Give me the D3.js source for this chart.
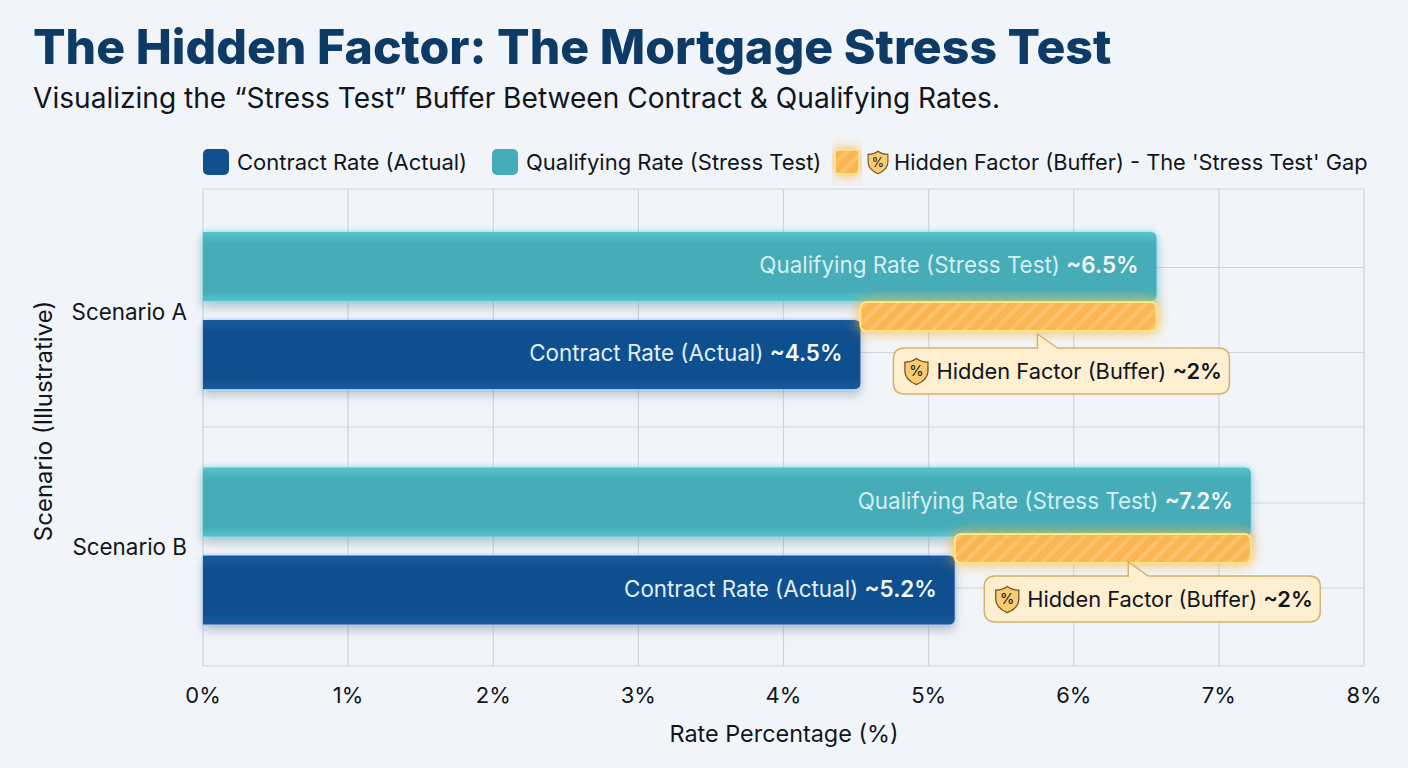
<!DOCTYPE html>
<html>
<head>
<meta charset="utf-8">
<script src="https://d3js.org/d3.v7.min.js"></script>
<style>
  html, body { margin: 0; padding: 0; background: #f1f5fa; }
  svg { display: block; }
  text { font-family: Inter, "Noto Sans", sans-serif; fill: #11151b; }
</style>
</head>
<body>
<svg></svg>
<script>
var scenarios = ["Scenario A", "Scenario B"];
var series = ["Qualifying", "Contract"];
var contractRates = [4.53, 5.18];
var qualifyingRates = [6.57, 7.22];
var contractLabels = ["~4.5%", "~5.2%"];
var qualifyingLabels = ["~6.5%", "~7.2%"];
var bufferLabels = ["~2%", "~2%"];
var xTicks = [0, 1, 2, 3, 4, 5, 6, 7, 8];

var width = 1408;
var height = 768;
var margin = { left: 203, right: 44, top: 189, bottom: 102 };

var svg = d3.select("svg").attr("width", width).attr("height", height);
var defs = svg.append("defs");

function glow(id, color, blur, opacity, shadow) {
  var f = defs.append("filter").attr("id", id)
    .attr("x", "-10%").attr("y", "-60%").attr("width", "120%").attr("height", "220%");
  f.append("feDropShadow").attr("dx", 0).attr("dy", 0)
    .attr("stdDeviation", blur).attr("flood-color", color).attr("flood-opacity", opacity);
  if (shadow) {
    f.append("feDropShadow").attr("dx", 0).attr("dy", 6)
      .attr("stdDeviation", 5).attr("flood-color", "#5a6b80").attr("flood-opacity", 0.35);
  }
}
glow("glowTeal", "#63d6dc", 3, 0.8, true);
glow("glowNavy", "#7fb4ea", 2, 0.7, true);
glow("glowGold", "#fba92c", 7, 0.85, false);

function vGradient(id, edge, mid) {
  var g = defs.append("linearGradient").attr("id", id)
    .attr("x1", 0).attr("y1", 0).attr("x2", 0).attr("y2", 1);
  g.append("stop").attr("offset", "0%").attr("stop-color", edge);
  g.append("stop").attr("offset", "18%").attr("stop-color", mid);
  g.append("stop").attr("offset", "85%").attr("stop-color", mid);
  g.append("stop").attr("offset", "100%").attr("stop-color", edge);
}
vGradient("tealFill", "#58c3ca", "#45acb8");
vGradient("navyFill", "#155a9e", "#114f8f");

var stripes = defs.append("pattern").attr("id", "stripes")
  .attr("width", 11).attr("height", 11)
  .attr("patternUnits", "userSpaceOnUse")
  .attr("patternTransform", "rotate(45)");
stripes.append("rect").attr("width", 11).attr("height", 11).attr("fill", "#fbb552");
stripes.append("rect").attr("width", 4).attr("height", 11).attr("fill", "#fcc26c");

svg.append("rect").attr("width", width).attr("height", height).attr("fill", "#f1f5fa");

// scales
var plotBottom = height - margin.bottom;
var x = d3.scaleLinear().domain([0, 8]).range([margin.left, width - margin.right]);
var y = d3.scaleBand().domain(scenarios).range([margin.top, 660]);
var y1 = d3.scaleBand().domain(series)
  .range([0, y.bandwidth()]).paddingInner(0.216).paddingOuter(0.446).align(0.548);

// title
svg.append("text").attr("x", 33).attr("y", 64)
  .attr("font-size", 48.2).attr("font-weight", 800)
  .style("fill", "#0d3b66").text("The Hidden Factor: The Mortgage Stress Test");
svg.append("text").attr("x", 33).attr("y", 108)
  .attr("font-size", 28.1).text("Visualizing the \u201cStress Test\u201d Buffer Between Contract & Qualifying Rates.");

// grid
var grid = svg.append("g");
grid.selectAll(".v").data(xTicks).enter().append("line")
  .attr("x1", function(d) { return x(d); }).attr("x2", function(d) { return x(d); })
  .attr("y1", margin.top).attr("y2", plotBottom)
  .attr("stroke", "#d0d4da").attr("stroke-width", 1.2);
var hLines = [margin.top, 427, plotBottom];
scenarios.forEach(function(s) {
  hLines.push(y(s) + y1("Qualifying") + y1.bandwidth() / 2 + 1);
  hLines.push(y(s) + y1("Contract") + y1.bandwidth() / 2 - 2);
});
grid.selectAll(".h").data(hLines).enter().append("line")
  .attr("x1", margin.left).attr("x2", width - margin.right)
  .attr("y1", function(d) { return d; }).attr("y2", function(d) { return d; })
  .attr("stroke", "#d0d4da").attr("stroke-width", 1.2);

// axes text
svg.selectAll(".xt").data(xTicks).enter().append("text")
  .attr("x", function(d) { return x(d); }).attr("y", 703)
  .attr("text-anchor", "middle").attr("font-size", 22)
  .text(function(d) { return d + "%"; });
svg.append("text").attr("x", 784).attr("y", 742).attr("text-anchor", "middle")
  .attr("font-size", 23.4).text("Rate Percentage (%)");
svg.selectAll(".yt").data(scenarios).enter().append("text")
  .attr("x", 187).attr("y", function(d) { return y(d) + y.bandwidth() / 2 + 12.8; })
  .attr("text-anchor", "end").attr("font-size", 22.4)
  .text(function(d) { return d; });
svg.append("text").attr("transform", "translate(52,421) rotate(-90)")
  .attr("text-anchor", "middle").attr("font-size", 24).text("Scenario (Illustrative)");

function shield(parent, cx, cy, s) {
  var g = parent.append("g").attr("transform", "translate(" + cx + "," + cy + ") scale(" + s + ")");
  g.append("path").attr("d", "M0,-12 C4,-9 7.5,-8.5 11,-8.5 L11,0 C11,6.5 6,10.5 0,13 C-6,10.5 -11,6.5 -11,0 L-11,-8.5 C-7.5,-8.5 -4,-9 0,-12 Z")
    .attr("fill", "#fbcb74").attr("stroke", "#6f5320").attr("stroke-width", 1.2);
  g.append("text").attr("text-anchor", "middle").attr("y", 5)
    .attr("font-size", 14).text("%");
}

// bars
var rows = scenarios.map(function(s, i) {
  return { s: s, contract: contractRates[i], qualifying: qualifyingRates[i],
    cl: contractLabels[i], ql: qualifyingLabels[i], bl: bufferLabels[i] };
});

function rightRound(x0, x1, top, h, r) {
  return "M" + x0 + "," + top + "H" + (x1 - r) + "Q" + x1 + "," + top + " " + x1 + "," + (top + r) +
    "V" + (top + h - r) + "Q" + x1 + "," + (top + h) + " " + (x1 - r) + "," + (top + h) + "H" + x0 + "Z";
}

var bars = svg.append("g");
bars.selectAll(".q").data(rows).enter().append("path")
  .attr("d", function(d) { return rightRound(x(0), x(d.qualifying), y(d.s) + y1("Qualifying"), y1.bandwidth(), 6); })
  .attr("fill", "url(#tealFill)").attr("filter", "url(#glowTeal)");
bars.selectAll(".c").data(rows).enter().append("path")
  .attr("d", function(d) { return rightRound(x(0), x(d.contract), y(d.s) + y1("Contract"), y1.bandwidth(), 6); })
  .attr("fill", "url(#navyFill)").attr("filter", "url(#glowNavy)");

// value labels
function barLabel(name, key, lab, band, text, color) {
  var t = svg.selectAll("." + name).data(rows).enter().append("text")
    .attr("x", function(d) { return x(d[key]) - 18; })
    .attr("y", function(d) { return y(d.s) + y1(band) + y1.bandwidth() / 2 + 6.5; })
    .attr("text-anchor", "end").attr("font-size", 22.4).style("fill", color);
  t.append("tspan").text(text);
  t.append("tspan").attr("font-weight", 600).style("fill", "#f4fafc").text(function(d) { return d[lab]; });
}
barLabel("ql", "qualifying", "ql", "Qualifying", "Qualifying Rate (Stress Test) ", "#d5eff2");
barLabel("cl", "contract", "cl", "Contract", "Contract Rate (Actual) ", "#e3eef8");

// buffer bars and their callouts sit a little differently in each scenario
var bufferNudge = [9.75, 6.25];
var calloutNudge = [41.25, 33.75];
var calloutShift = [-115, -118.5];
var bufferH = 29;
svg.selectAll(".b").data(rows).enter().append("rect")
  .attr("x", function(d) { return x(d.contract); })
  .attr("y", function(d, i) { return y(d.s) + y.bandwidth() / 2 + bufferNudge[i] - bufferH / 2; })
  .attr("width", function(d) { return x(d.qualifying) - x(d.contract); })
  .attr("height", bufferH).attr("rx", 6)
  .attr("fill", "url(#stripes)").attr("stroke", "#fee77f").attr("stroke-width", 2)
  .attr("filter", "url(#glowGold)");

// callouts
var cw = 336, ch = 46;
rows.forEach(function(d, i) {
  var mid = (x(d.contract) + x(d.qualifying)) / 2;
  var left = mid + calloutShift[i];
  var top = y(d.s) + y.bandwidth() / 2 + calloutNudge[i];
  var tipX = left + 144;
  var r = 11;
  var p = "M" + (left + r) + "," + top + "H" + tipX + "V" + (top - 14) + "L" + (tipX + 20) + "," + top +
    "H" + (left + cw - r) + "Q" + (left + cw) + "," + top + " " + (left + cw) + "," + (top + r) +
    "V" + (top + ch - r) + "Q" + (left + cw) + "," + (top + ch) + " " + (left + cw - r) + "," + (top + ch) +
    "H" + (left + r) + "Q" + left + "," + (top + ch) + " " + left + "," + (top + ch - r) +
    "V" + (top + r) + "Q" + left + "," + top + " " + (left + r) + "," + top + "Z";
  svg.append("path").attr("d", p).attr("fill", "#fdefd0").attr("stroke", "#d6b26c").attr("stroke-width", 1.5);
  shield(svg, left + 23, top + 23, 1.05);
  var t = svg.append("text").attr("x", left + 43).attr("y", top + 31).attr("font-size", 21.8);
  t.append("tspan").text("Hidden Factor (Buffer) ");
  t.append("tspan").attr("font-weight", 600).text(d.bl);
});

// legend
var legend = svg.append("g");
legend.append("rect").attr("x", 203).attr("y", 149).attr("width", 26).attr("height", 26).attr("rx", 5).attr("fill", "#114f8f");
legend.append("text").attr("x", 237).attr("y", 170).attr("font-size", 22).text("Contract Rate (Actual)");
legend.append("rect").attr("x", 492).attr("y", 149).attr("width", 26).attr("height", 26).attr("rx", 5).attr("fill", "#45adb9");
legend.append("text").attr("x", 526).attr("y", 170).attr("font-size", 22).text("Qualifying Rate (Stress Test)");
legend.append("rect").attr("x", 835).attr("y", 150).attr("width", 24).attr("height", 24).attr("rx", 4)
  .attr("fill", "url(#stripes)").attr("stroke", "#fee77f").attr("stroke-width", 1.5)
  .attr("filter", "url(#glowGold)");
shield(legend, 878, 162, 0.9);
legend.append("text").attr("x", 894).attr("y", 170).attr("font-size", 21.8).text("Hidden Factor (Buffer) - The 'Stress Test' Gap");
</script>
</body>
</html>
